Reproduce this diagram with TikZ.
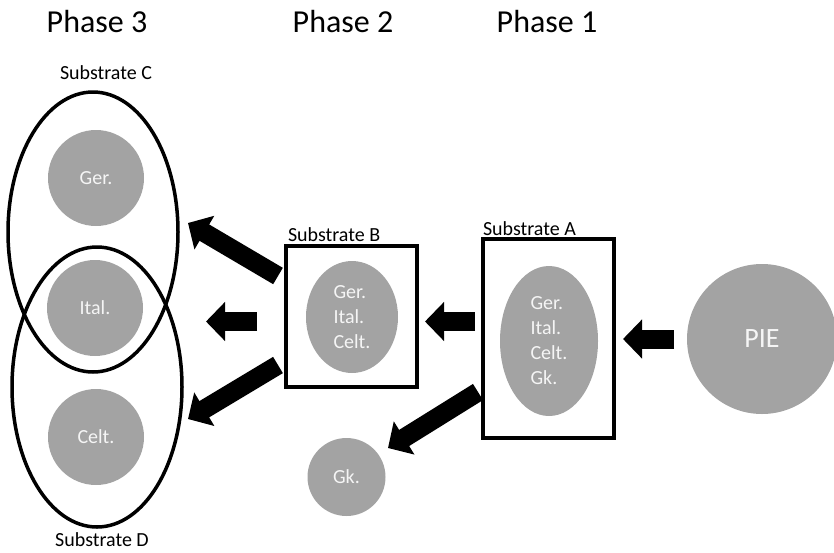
\documentclass[tikz,border=0pt]{standalone}
\usepackage{fontspec}
\setmainfont{Carlito}
\usetikzlibrary{shapes.geometric,arrows.meta,calc}
\definecolor{blobgray}{RGB}{163,163,163}
\definecolor{blobtext}{RGB}{245,245,245}
\begin{document}
\begin{tikzpicture}[x=1pt,y=-1pt,
  every node/.style={inner sep=0pt,outer sep=0pt},
  phase/.style={font=\fontsize{32}{38}\selectfont},
  sublabel/.style={font=\fontsize{20}{24}\selectfont},
  lang/.style={circle,fill=blobgray,text=blobtext,font=\fontsize{20}{25}\selectfont},
  group/.style={ellipse,fill=blobgray,text=blobtext,align=left,font=\fontsize{20}{25}\selectfont},
  substrate/.style={ellipse,draw,line width=3.5pt},
  stratbox/.style={draw,line width=3.5pt,rectangle},
  fat/.style={line width=19pt,-{Triangle[width=38pt,length=19pt]}}
]
\useasboundingbox (0,0) rectangle (834,552);

% column headings
\node[phase] (p3) at (97,22) {Phase 3};
\node[phase] (p2) at (343,22) {Phase 2};
\node[phase] (p1) at (547,22) {Phase 1};

% phase 3: two overlapping substrates
\node[substrate,minimum width=170pt,minimum height=280pt] (subC) at (93,232) {};
\node[substrate,minimum width=170pt,minimum height=280pt] (subD) at (97,387) {};
\node[sublabel] (labC) at (106,73) {Substrate C};
\node[sublabel,anchor=base] (labD) at (102,546) {Substrate D};
\node[lang,minimum size=96pt] (ger) at (96,178) {Ger.};
\node[lang,minimum size=96pt] (ital) at (95,308) {Ital.};
\node[lang,minimum size=96pt] (celt) at (96,437) {Celt.};

% phase 2
\node[stratbox,minimum width=131pt,minimum height=141pt] (boxB) at (351.5,316.5) {};
\node[sublabel,anchor=base west] (labB) at ($(boxB.north west)+(2,-5)$) {Substrate B};
\node[group,minimum width=92pt,minimum height=112pt] (grpB) at (352,317) {Ger.\\Ital.\\Celt.};
\node[lang,minimum size=78pt] (gk) at (346.5,477) {Gk.};

% phase 1
\node[stratbox,minimum width=131pt,minimum height=199pt] (boxA) at (548.5,338.5) {};
\node[sublabel,anchor=base west] (labA) at ($(boxA.north west)+(0,-4)$) {Substrate A};
\node[group,minimum width=98pt,minimum height=150pt] (grpA) at (549,341) {Ger.\\Ital.\\Celt.\\Gk.};

% source
\node[lang,minimum size=150pt,font=\fontsize{28}{32}\selectfont] (pie) at (762,339) {PIE};

% movements
\draw[fat,shorten <=13pt,shorten >=9pt] (pie.west) -- (pie.west -| boxA.east);
\draw[fat] ($(boxA.west)+(-8,-17)$) -- ($(boxB.east)+(8,5)$);
\draw[fat] ($(boxA.west)+(-5,53.5)$) -- ($(gk.east)+(2.5,-29)$);
\draw[fat] ($(boxB.west)+(-29,5)$) -- ($(ital.east)+(63,13.5)$);
\draw[fat] ($(boxB.west)+(-8,-40.5)$) -- ($(subC.east)+(10,-9)$);
\draw[fat] ($(boxB.west)+(-8,48.5)$) -- ($(subD.east)+(6,32)$);
\end{tikzpicture}
\end{document}
